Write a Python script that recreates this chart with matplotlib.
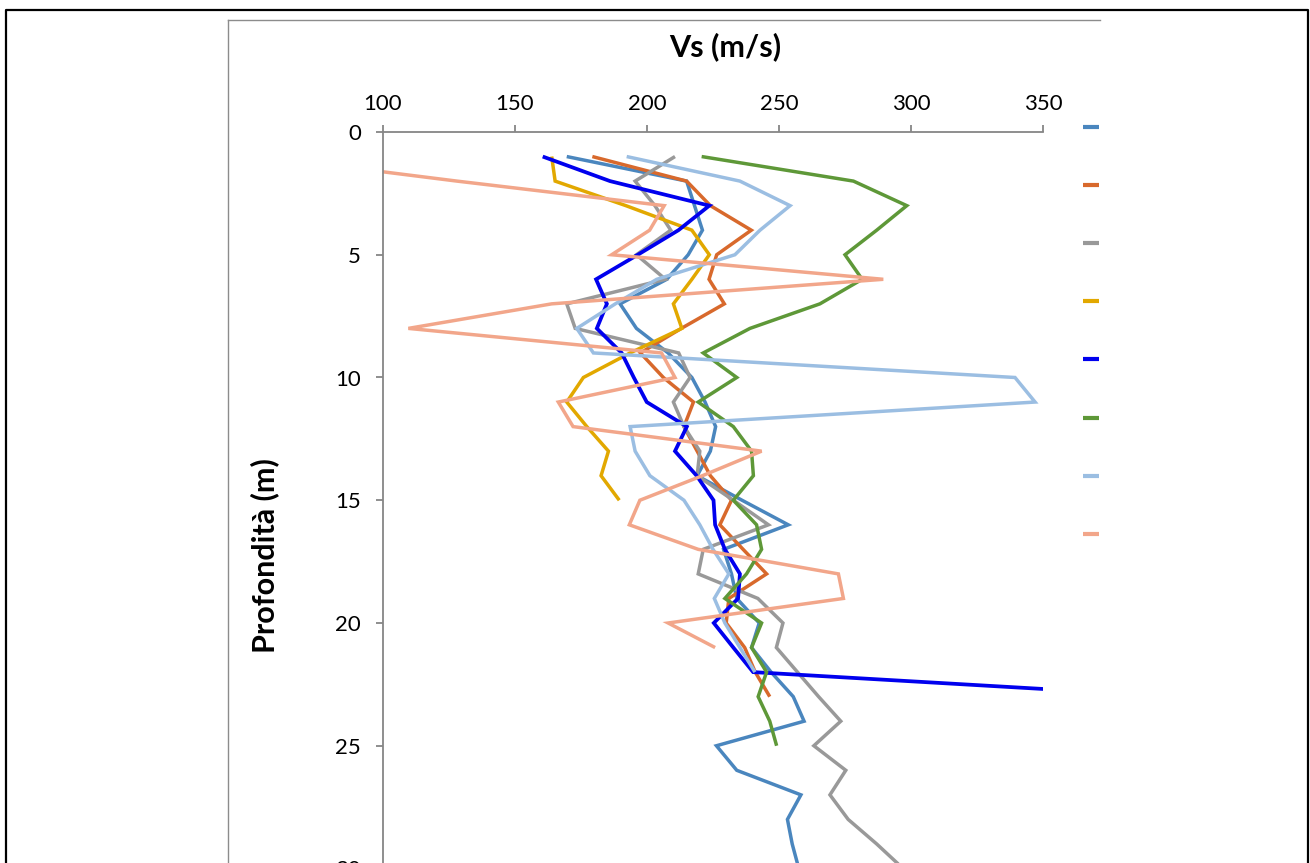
import matplotlib
matplotlib.use("Agg")
import matplotlib.pyplot as plt
from matplotlib.lines import Line2D

# ---------------- data (Vs in m/s, one value per metre of depth) ----------------
depth_max_shown = 35
vs_s1 = [169.6, 215, 218, 221, 215.6, 207.5, 189.8, 196, 208, 217, 222, 226, 224, 219, 236,
         253.5, 229, 232, 234, 242.5, 239.6, 247, 255.4, 259.5, 226.3, 234, 258.3, 253.2, 255, 257.5]
vs_s2 = [179.3, 215, 224, 239.5, 226.4, 223.5, 229.3, 213, 197.5, 206.2, 217.6, 214, 219, 224, 232,
         227.6, 236.4, 245.3, 231, 230, 237, 241, 246.5]
vs_s3 = [210.6, 195.5, 203, 209, 196, 207, 169.6, 172.8, 212, 216.3, 210, 214, 220, 219, 232.7,
         246, 221.3, 219.4, 242, 251.5, 249, 257, 265, 273.4, 263.2, 275.3, 269.3, 276.2, 287, 297]
vs_s4 = [163.9, 165.2, 192, 217, 223.6, 217, 210, 213.2, 193.6, 175.9, 169.6, 177.2, 185.4, 182.6, 189.5]
vs_s5 = [160.5, 186, 223.6, 211.9, 196.5, 180.7, 184.8, 181, 190.4, 195, 199.9, 215.1, 210.6, 218.8,
         225.2, 225.8, 229.5, 235.2, 234.5, 225.3, 232.7, 240.2, 400]
vs_s6 = [220.7, 278.2, 298.4, 287, 275, 281.5, 265.5, 239, 221.3, 234, 219.4, 232.7, 239.6, 240.3,
         232.7, 241.5, 243.4, 237.7, 229.5, 243.4, 239.6, 245.3, 242.1, 246.5, 249.1]
vs_s7 = [192.3, 235.2, 254.2, 242.8, 233.3, 203.7, 188, 173.4, 179.7, 339.4, 347, 193.6, 195.5,
         201.1, 214, 220, 225, 231, 225.5, 229.5, 235.2, 240.9]
vs_s8 = [54, 128, 206.5, 201, 186.6, 289.5, 163.9, 109.6, 205.5, 210.6, 166.4, 172, 243.4, 221,
         197.3, 193.3, 219.4, 272.5, 274.4, 208, 225.8]

series_values = [vs_s1, vs_s2, vs_s3, vs_s4, vs_s5, vs_s6, vs_s7, vs_s8]
series_colors = ["#4A86BE", "#D8692C", "#999999", "#E2A800", "#0000EE", "#5E9838", "#9BBEE2", "#F2A68A"]
series_widths = [2.5, 2.5, 2.5, 2.5, 2.7, 2.5, 2.5, 2.5]
x_ticks = [100, 150, 200, 250, 300, 350]
y_ticks = [0, 5, 10, 15, 20, 25, 30, 35]
x_title = "Vs (m/s)"
y_title = "Profondità (m)"

# ---------------- layout (pixel geometry of the reference) ----------------
W, H = 1310, 863
fig = plt.figure(figsize=(W / 100, H / 100), dpi=100)
fig.patch.set_facecolor("white")

def fx(px):
    return px / W

def fy(py):
    return 1 - py / H

FONT = ["Lato", "DejaVu Sans"]
AXC = "#868686"

x_left, x_right = 383, 1043
y_top = 132
px_per_m = 24.55
y_bot = y_top + depth_max_shown * px_per_m
ax = fig.add_axes([fx(x_left), fy(y_bot), (x_right - x_left) / W, (y_bot - y_top) / H])
ax.set_facecolor("none")

for vals, col, lw in zip(series_values, series_colors, series_widths):
    depths = list(range(1, len(vals) + 1))
    ax.plot(vals, depths, color=col, lw=lw, solid_joinstyle="miter", solid_capstyle="butt")

ax.set_xlim(100, 350)
ax.set_ylim(depth_max_shown, 0)
ax.xaxis.tick_top()
ax.set_xticks(x_ticks)
ax.set_yticks(y_ticks)
for s in ["right", "bottom"]:
    ax.spines[s].set_visible(False)
for s in ["left", "top"]:
    ax.spines[s].set_color(AXC)
    ax.spines[s].set_linewidth(1.3)
ax.tick_params(axis="both", direction="out", length=5, width=1.3, color=AXC,
               labelsize=16, labelcolor="black")
ax.tick_params(axis="x", pad=8)
ax.tick_params(axis="y", pad=11)
for lab in ax.get_xticklabels() + ax.get_yticklabels():
    lab.set_fontfamily(FONT)

# axis titles
fig.text(fx(725), fy(47), x_title, ha="center", va="center", fontsize=22,
         fontweight="bold", family=FONT)
fig.text(fx(265), fy(556), y_title, ha="center", va="center", fontsize=22,
         fontweight="bold", rotation=90, family=FONT)

# legend (labels are cut off in the reference)
handles = [Line2D([0], [0], color=c, lw=3.0, solid_capstyle="butt") for c in series_colors]
fs = 10
fs_px = fs * 100 / 72
hh = 2.0
leg = fig.legend(handles=handles, labels=[""] * len(handles), loc="upper left",
                 bbox_to_anchor=(fx(1083), fy(133 - hh * fs_px / 2)),
                 frameon=False, fontsize=fs, borderpad=0, borderaxespad=0,
                 handlelength=16 / fs_px, handleheight=hh,
                 labelspacing=(58 - hh * fs_px) / fs_px + 6.5 / fs_px, handletextpad=0.3)

# chart frames
fig.add_artist(Line2D([fx(228), fx(228)], [fy(20), fy(H + 5)], color="#8C8C8C", lw=1.0))
fig.add_artist(Line2D([fx(228), fx(1100)], [fy(20), fy(20)], color="#8C8C8C", lw=1.0))
fig.add_artist(Line2D([fx(6), fx(6), fx(1308), fx(1308)], [fy(H + 5), fy(10), fy(10), fy(H + 5)],
                      color="black", lw=1.6))

fig.savefig("out.png", dpi=100)
